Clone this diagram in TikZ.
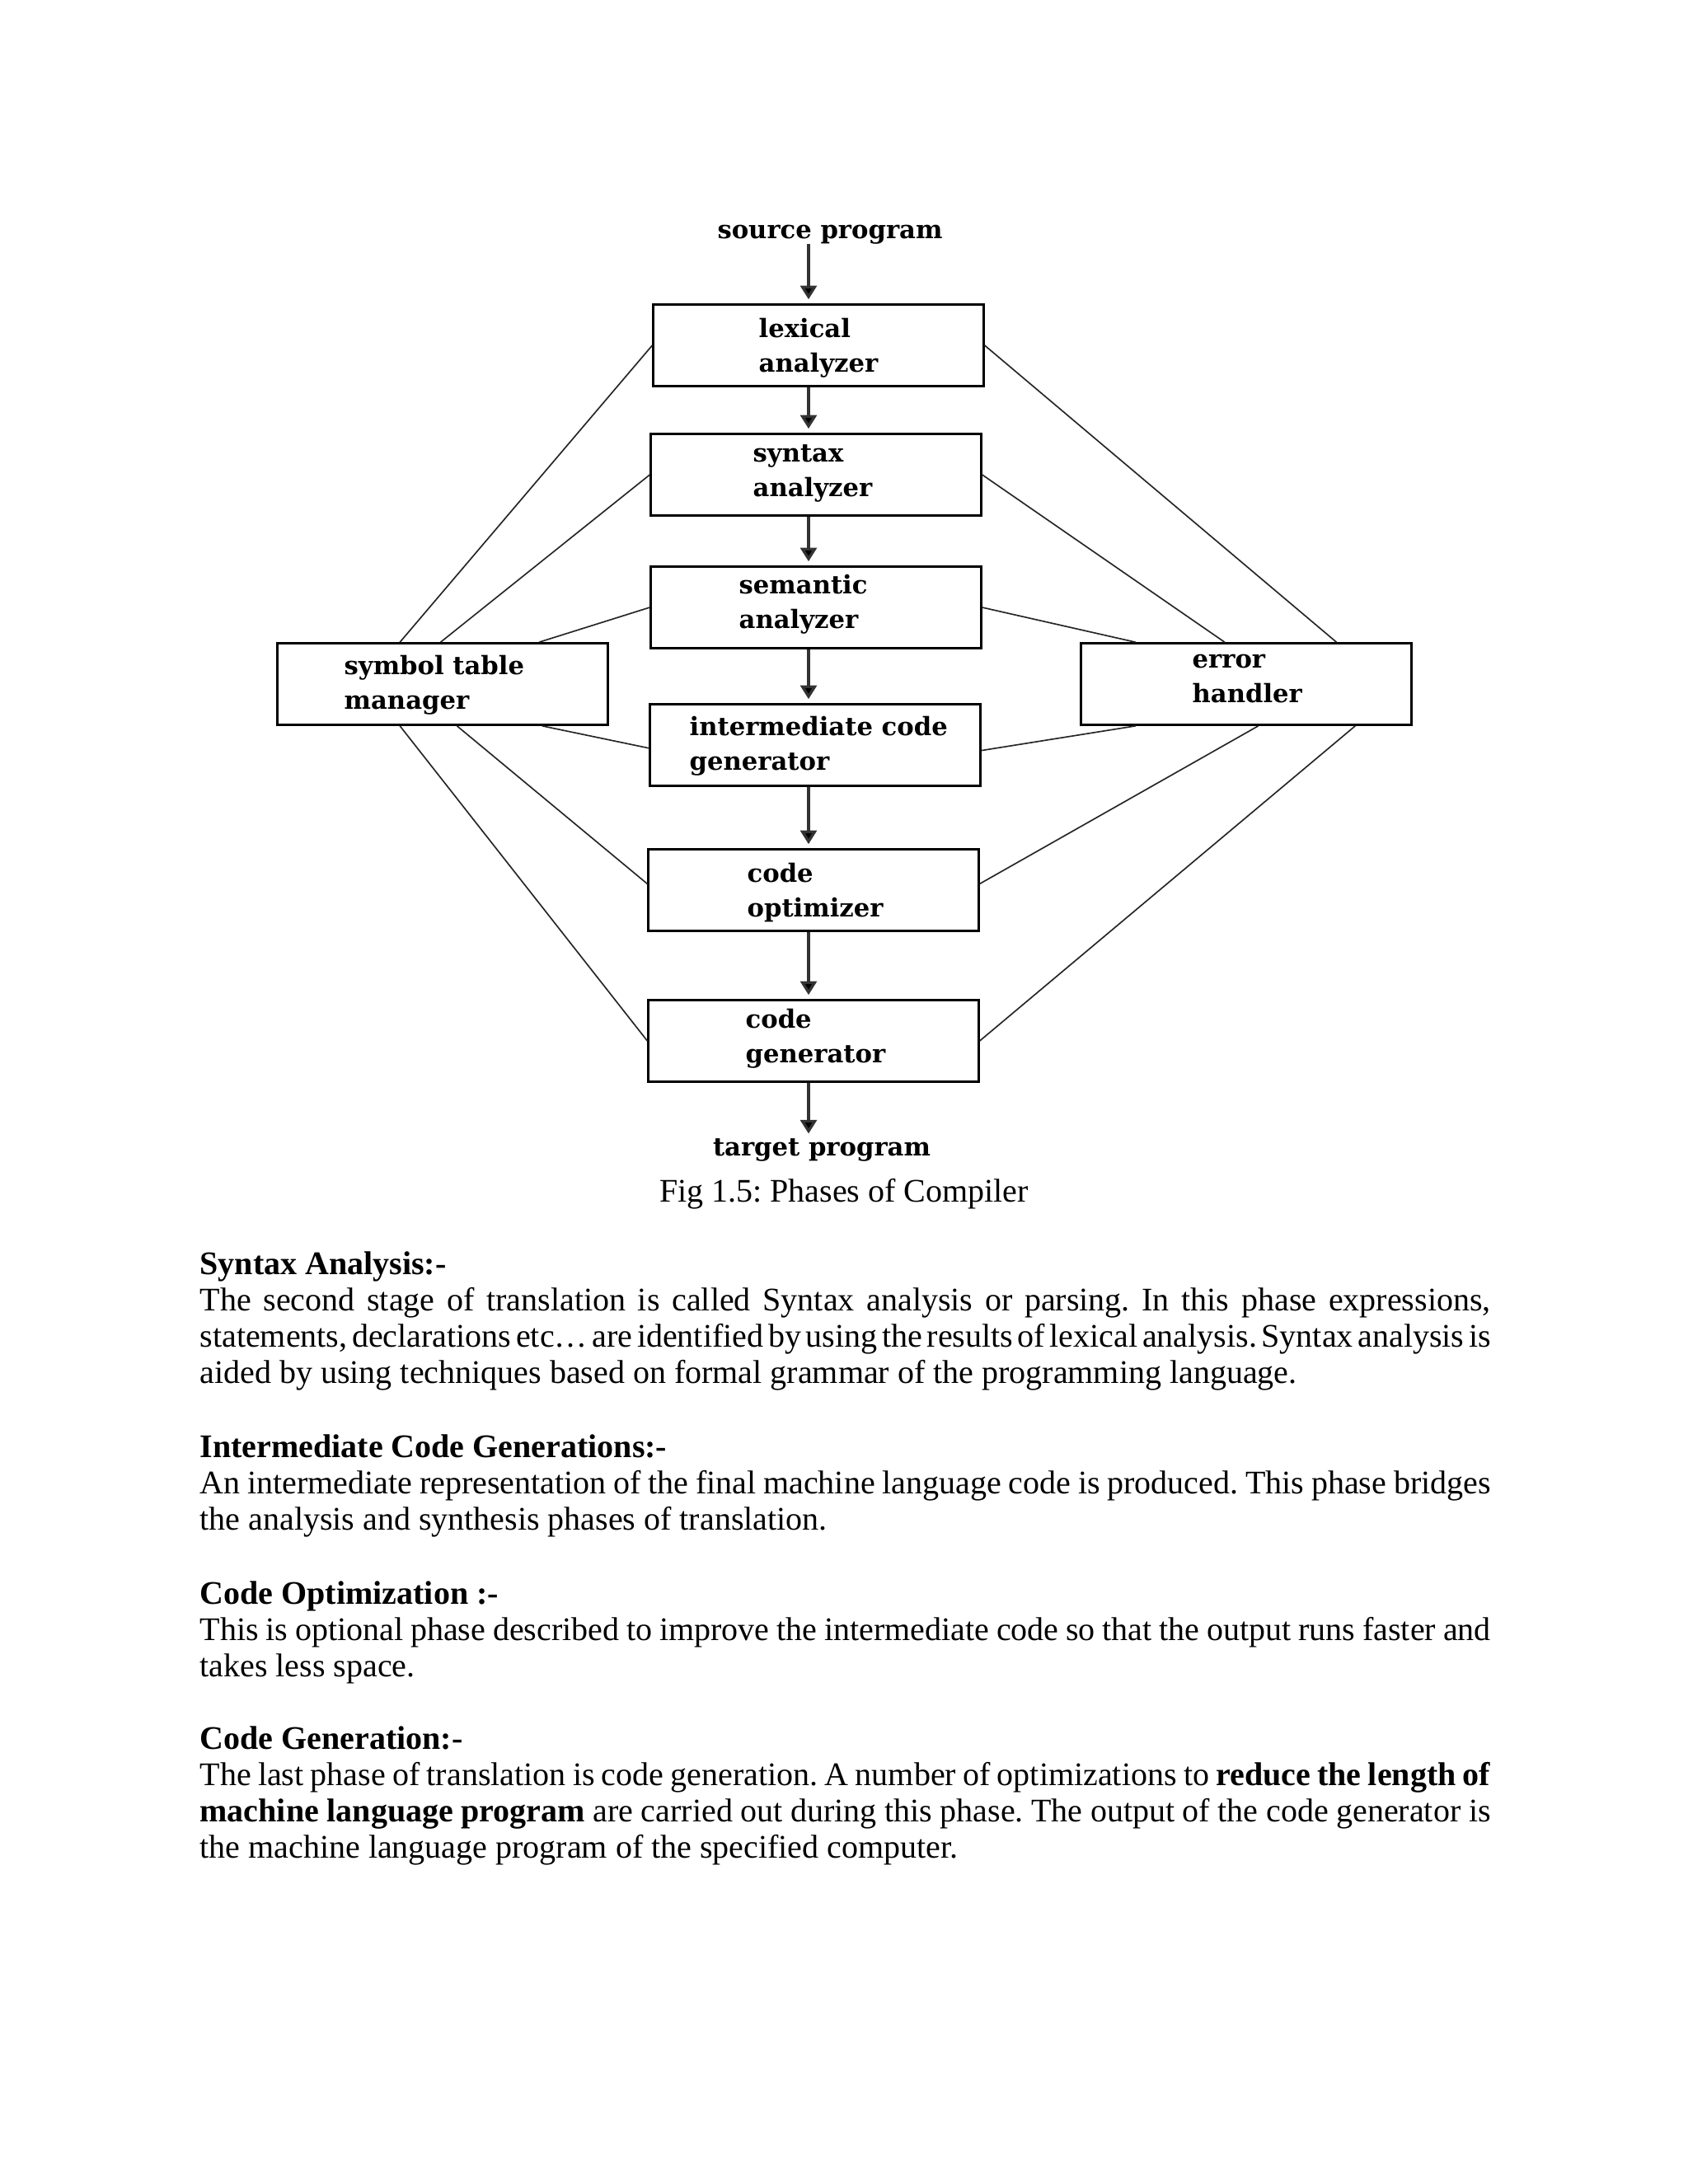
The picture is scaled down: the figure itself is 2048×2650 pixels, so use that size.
\documentclass[tikz,border=0pt]{standalone}
\usepackage{fontspec}
\setmainfont{Liberation Serif}
\newfontfamily\figfont{DejaVu Serif}
\usetikzlibrary{arrows.meta}

\tikzset{
  box/.style={draw=black, line width=0.9pt, minimum width=4.22cm, minimum height=1.04cm, inner sep=0pt},
  lbl/.style={font=\figfont\bfseries\fontsize{9.2}{12.5}\selectfont, align=left, anchor=base west, inner sep=0pt},
  link/.style={line width=0.5pt, draw=black!85},
  arr/.style={line width=1pt, draw=black!80, shorten >=1.5pt, -{Triangle[width=6pt,length=5pt,fill=black]}},
  sect/.style={text width=6.5in, align=justify, anchor=base west, inner sep=0pt,
    font=\fontsize{12}{13.2}\selectfont,
    execute at begin node={\frenchspacing\spaceskip=0.25em plus 0.5em minus 0.15em\relax
      \hyphenpenalty=10000\relax\tolerance=9999\relax}}
}

\begin{document}
\begin{tikzpicture}[x=0.010542cm, y=-0.010542cm]
        \path[fill=white] (0,0) rectangle (2048,2650);
        % phases of the compiler
        \node[box] (lex) at (993,419) {};
        \node[box] (syn) at (990,576) {};
        \node[box] (sem) at (990,737) {};
        \node[box] (icg) at (989,904) {};
        \node[box] (opt) at (987,1080) {};
        \node[box] (gen) at (987,1263) {};
        \node[box] (sym) at (537,830) {};
        \node[box] (err) at (1512,830) {};
        % texts (placed at the baseline of their last line)
        \node[lbl, anchor=base] (src) at (1007,289) {source program};
        \node[lbl] (lexl) at (920,451) {lexical\\analyzer};
        \node[lbl] (synl) at (913,602) {syntax\\analyzer};
        \node[lbl] (seml) at (896,762) {semantic\\analyzer};
        \node[lbl] (icgl) at (836,934) {intermediate code\\generator};
        \node[lbl] (optl) at (906,1112) {code\\optimizer};
        \node[lbl] (genl) at (904,1289) {code\\generator};
        \node[lbl] (syml) at (417,860) {symbol table\\manager};
        \node[lbl] (errl) at (1446,852) {error\\handler};
        \node[lbl, anchor=base] (tgt) at (997,1402) {target program};
        % main flow
        \coordinate (spine) at (981,0);
        \draw[arr] (src.south -| spine) -- (lex.north -| spine);
        \draw[arr] (lex.south -| spine) -- (syn.north -| spine);
        \draw[arr] (syn.south -| spine) -- (sem.north -| spine);
        \draw[arr] (sem.south -| spine) -- (icg.north -| spine);
        \draw[arr] (icg.south -| spine) -- (opt.north -| spine);
        \draw[arr] (opt.south -| spine) -- (gen.north -| spine);
        \draw[arr] (gen.south -| spine) -- (tgt.north -| spine);
        % symbol table links
        \draw[link] ([xshift=1.58cm]sym.north west) -- (lex.west);
        \draw[link] ([xshift=2.10cm]sym.north west) -- (syn.west);
        \draw[link] ([xshift=3.36cm]sym.north west) -- (sem.west);
        \draw[link] ([xshift=3.40cm]sym.south west) -- ([yshift=-0.04cm]icg.west);
        \draw[link] ([xshift=2.31cm]sym.south west) -- ([yshift=0.08cm]opt.west);
        \draw[link] ([xshift=1.58cm]sym.south west) -- (gen.west);
        % error handler links
        \draw[link] (lex.east) -- ([xshift=3.28cm]err.north west);
        \draw[link] (syn.east) -- ([xshift=1.85cm]err.north west);
        \draw[link] (sem.east) -- ([xshift=0.71cm]err.north west);
        \draw[link] ([yshift=-0.07cm]icg.east) -- ([xshift=0.71cm]err.south west);
        \draw[link] ([yshift=0.08cm]opt.east) -- ([xshift=2.28cm]err.south west);
        \draw[link] (gen.east) -- ([xshift=3.52cm]err.south west);
        % caption and text
        \node[font=\fontsize{12}{14}\selectfont\frenchspacing, anchor=base, inner sep=0pt] (cap) at (1024,1458) {Fig 1.5: Phases of Compiler};
        \node[sect] (syntax) at (242,1546) {\textbf{Syntax Analysis:-}\\
          The second stage of translation is called Syntax analysis or parsing. In this phase expressions,\linebreak
          statements, declarations etc… are identified by using the results of lexical analysis. Syntax analysis is\linebreak
          aided by using techniques based on formal grammar of the programming language.};
        \node[sect] (inter) at (242,1768) {\textbf{Intermediate Code Generations:-}\\
          An intermediate representation of the final machine language code is produced. This phase bridges\linebreak
          the analysis and synthesis phases of translation.};
        \node[sect] (optim) at (242,1946) {\textbf{Code Optimization :-}\\
          This is optional phase described to improve the intermediate code so that the output runs faster and\linebreak
          takes less space.};
        \node[sect] (codegen) at (242,2122) {\textbf{Code Generation:-}\\
          The last phase of translation is code generation. A number of optimizations to \textbf{reduce the length of}\linebreak
          \textbf{machine language program} are carried out during this phase. The output of the code generator is\linebreak
          the machine language program of the specified computer.};
      \end{tikzpicture}
\end{document}
